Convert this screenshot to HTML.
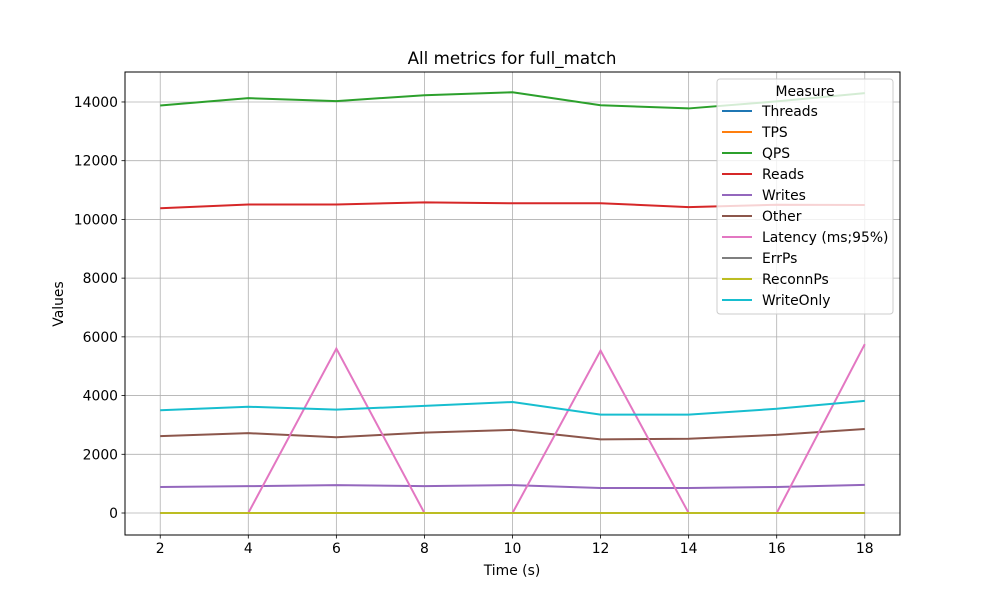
<!DOCTYPE html>
<html><head><meta charset="utf-8"><style>
body{margin:0;background:#fff}
svg{font-family:"DejaVu Sans","Liberation Sans",sans-serif}
</style></head><body>
<svg id="chart" width="1000" height="600" xmlns="http://www.w3.org/2000/svg">
<rect width="1000" height="600" fill="#fff"/>
<g id="grid"></g>
<g id="series"></g>
<rect x="125" y="72" width="775" height="463" fill="none" stroke="#000" stroke-width="1"/>
<g id="ticks"></g>
<text x="512" y="64" font-size="16.7" text-anchor="middle">All metrics for full_match</text>
<text x="512" y="575" font-size="13.9" text-anchor="middle">Time (s)</text>
<text x="63" y="304" font-size="13.9" text-anchor="middle" transform="rotate(-90 63 304)">Values</text>
<g id="legend"></g>
</svg>
<script>
const times=[2,4,6,8,10,12,14,16,18];
const seriesNames=["Threads","TPS","QPS","Reads","Writes","Other","Latency (ms;95%)","ErrPs","ReconnPs","WriteOnly"];
const colors=["#1f77b4","#ff7f0e","#2ca02c","#d62728","#9467bd","#8c564b","#e377c2","#7f7f7f","#bcbd22","#17becf"];
const threads=[1,1,1,1,1,1,1,1,1];
const tps=[1,1,1,1,1,1,1,1,1];
const qps=[13880,14130,14030,14230,14330,13890,13780,14020,14300];
const reads=[10380,10510,10510,10580,10550,10550,10420,10500,10490];
const writes=[886,915,950,915,950,852,852,886,960];
const other=[2620,2720,2580,2740,2830,2510,2530,2660,2860];
const latency=[0,0,5600,0,0,5530,0,0,5750];
const errps=[0,0,0,0,0,0,0,0,0];
const reconnps=[0,0,0,0,0,0,0,0,0];
const writeonly=[3500,3620,3520,3650,3780,3350,3350,3550,3820];
const xTicks=[2,4,6,8,10,12,14,16,18];
const yTicks=[0,2000,4000,6000,8000,10000,12000,14000];
const allSeries=[threads,tps,qps,reads,writes,other,latency,errps,reconnps,writeonly];
const NS="http://www.w3.org/2000/svg";
const X0=125,X1=900,Y0=535,Y1=72,xmin=1.2,xmax=18.8,ymin=-749,ymax=15021;
function xs(v){return X0+(v-xmin)/(xmax-xmin)*(X1-X0);}
function ys(v){return Y0-(v-ymin)/(ymax-ymin)*(Y0-Y1);}
function mk(tag,attrs,parent){const e=document.createElementNS(NS,tag);for(const k in attrs)e.setAttribute(k,attrs[k]);parent.appendChild(e);return e;}
const grid=document.getElementById('grid'),ticks=document.getElementById('ticks'),ser=document.getElementById('series'),leg=document.getElementById('legend');
xTicks.forEach(t=>{const x=xs(t);
 const g=mk('line',{x1:x,x2:x,y1:Y1,y2:Y0,stroke:'#b0b0b0','stroke-width':0.8},grid);
 
 
 mk('line',{x1:x,x2:x,y1:Y0,y2:Y0+3.5,stroke:'#000','stroke-width':0.8},ticks);
 const tx=mk('text',{x:x,y:Y0+18,'font-size':13.9,'text-anchor':'middle'},ticks);tx.textContent=t;
 
 
});
yTicks.forEach(t=>{const y=ys(t);
 const g=mk('line',{x1:X0,x2:X1,y1:y,y2:y,stroke:'#b0b0b0','stroke-width':0.8},grid);
 
 
 mk('line',{x1:X0-3.5,x2:X0,y1:y,y2:y,stroke:'#000','stroke-width':0.8},ticks);
 const tx=mk('text',{x:X0-7,y:y+5,'font-size':13.9,'text-anchor':'end'},ticks);tx.textContent=t;
 
 
});
allSeries.forEach((arr,i)=>{
 const p=mk('polyline',{points:arr.map((v,j)=>xs(times[j])+','+ys(v)).join(' '),fill:'none',stroke:colors[i],'stroke-width':2},ser);
 
 
});
const lb=mk('rect',{x:717,y:79,width:176,height:235,rx:3,fill:'#fff','fill-opacity':0.8,stroke:'#ccc','stroke-width':1},leg);


const lt=mk('text',{x:805,y:96,'font-size':13.9,'text-anchor':'middle'},leg);lt.textContent='Measure';


seriesNames.forEach((n,i)=>{const y=111+i*21;
 const g=mk('g',{},leg);
 
 
 mk('line',{x1:722,x2:752,y1:y,y2:y,stroke:colors[i],'stroke-width':2},g);
 const t=mk('text',{x:762,y:y+5,'font-size':13.9},g);t.textContent=n;
});
</script>
</body></html>
